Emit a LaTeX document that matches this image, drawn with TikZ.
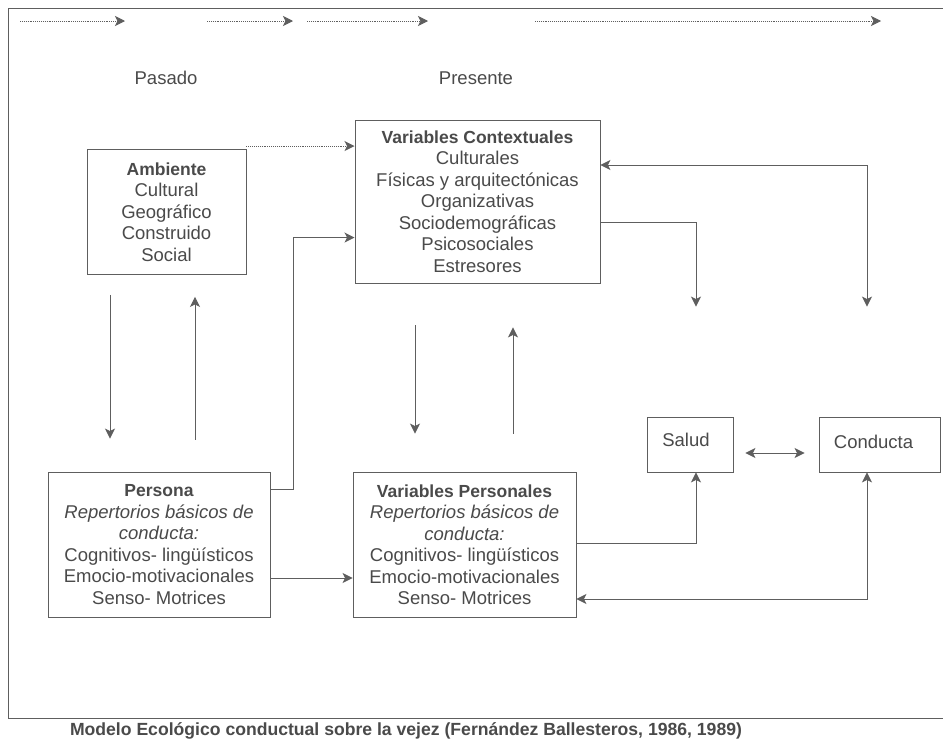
\documentclass[tikz,border=0pt]{standalone}
\usepackage{fontspec}
\setmainfont{Liberation Sans}
\usetikzlibrary{arrows.meta}
\definecolor{linegray}{HTML}{5E5E5E}
\definecolor{textgray}{HTML}{4A4A4A}
\tikzset{
  boxnode/.style={draw=linegray, line width=0.9pt, inner sep=0pt, align=center, text=textgray,
    font=\fontsize{18.5}{21.5}\selectfont},
  lbl/.style={inner sep=0pt, text=textgray, font=\fontsize{18.5}{22}\selectfont},
  conn/.style={draw=linegray, line width=0.9pt},
  tip/.tip={Stealth[length=10pt,width=10pt,inset=2.5pt]},
  arr/.style={conn, -tip},
  darr/.style={conn, tip-tip},
  dotarr/.style={arr, densely dotted},
}
\newcommand{\btitle}[1]{{\fontsize{17.5}{21.5}\selectfont\bfseries #1}}
\begin{document}
\begin{tikzpicture}[x=1pt,y=-1pt]
\useasboundingbox (0,0) rectangle (943,742);
\fill[white] (0,0) rectangle (943,742);
% outer frame
\draw[conn] (950,8) -- (8,8) -- (8,718) -- (950,718);
% time arrows
\coordinate (t1a) at (20,21); \coordinate (t1b) at (125,21);
\coordinate (t2a) at (207,21); \coordinate (t2b) at (293,21);
\coordinate (t3a) at (307,21); \coordinate (t3b) at (428,21);
\coordinate (t4a) at (535,21); \coordinate (t4b) at (881,21);
\draw[dotarr] (t1a) -- (t1b);
\draw[dotarr] (t2a) -- (t2b);
\draw[dotarr] (t3a) -- (t3b);
\draw[dotarr] (t4a) -- (t4b);
% headings
\node[lbl] (pasado) at (166,78) {Pasado};
\node[lbl] (presente) at (476,78) {Presente};
% boxes
\node[boxnode, minimum width=159pt, minimum height=125pt] (amb) at (166.5,212)
  {\btitle{Ambiente}\\ Cultural\\ Geográfico\\ Construido\\ Social};
\node[boxnode, minimum width=245pt, minimum height=163pt] (vc) at (477.5,201.5)
  {\btitle{Variables Contextuales}\\ Culturales\\ Físicas y arquitectónicas\\ Organizativas\\ Sociodemográficas\\ Psicosociales\\ Estresores};
\node[boxnode, minimum width=222pt, minimum height=145pt] (per) at (159,544.5)
  {\btitle{Persona}\\ \textit{Repertorios básicos de}\\ \textit{conducta:}\\ Cognitivos- lingüísticos\\ Emocio-motivacionales\\ Senso- Motrices};
\node[boxnode, minimum width=223pt, minimum height=145pt] (vp) at (464.5,544.5)
  {\btitle{Variables Personales}\\ \textit{Repertorios básicos de}\\ \textit{conducta:}\\ Cognitivos- lingüísticos\\ Emocio-motivacionales\\ Senso- Motrices};
\node[boxnode, minimum width=86pt, minimum height=55pt] (salud) at (690,444.5)
  {\raisebox{10pt}{\hspace*{-8pt}Salud}};
\node[boxnode, minimum width=121pt, minimum height=55pt] (cond) at (879.5,444.5)
  {\raisebox{5pt}{\hspace*{-12pt}Conducta}};
% caption
\node[inner sep=0pt, text=textgray, font=\fontsize{17.6}{20}\selectfont\bfseries] (cap) at (406,731)
  {Modelo Ecológico conductual sobre la vejez (Fernández Ballesteros, 1986, 1989)};
% connectors
\draw[dotarr] ([yshift=3pt]amb.north east) -- ([yshift=3pt]amb.north east -| vc.west);
\draw[arr] ([yshift=-18pt]per.north east) -- ++(23,0) |- ([yshift=-118pt]vc.north west);
\draw[arr] ([yshift=-33.5pt]per.east) -- ([yshift=-33.5pt]per.east -| vp.west);
% vertical arrows Pasado
\draw[arr, shorten <=20pt, shorten >=33pt] ([xshift=-56.5pt]amb.south) -- ([xshift=-56.5pt]amb.south |- per.north);
\draw[arr, shorten <=32pt, shorten >=22pt] ([xshift=36pt]per.north) -- ([xshift=36pt]per.north |- amb.south);
% vertical arrows Presente
\draw[arr, shorten <=42pt, shorten >=38pt] ([xshift=-62.5pt]vc.south) -- ([xshift=-62.5pt]vc.south |- vp.north);
\draw[arr, shorten <=38pt, shorten >=44pt] ([xshift=48.5pt]vp.north) -- ([xshift=48.5pt]vp.north |- vc.south);
% right side
\draw[arr, shorten >=110pt] ([yshift=-20.5pt]vc.east) -| ([xshift=6pt]salud.north);
\draw[darr, shorten >=110pt] ([yshift=36.5pt]vc.east) -| ([xshift=-12.5pt]cond.north);
\draw[arr] ([yshift=1.5pt]vp.east) -| ([xshift=6pt]salud.south);
\draw[darr] ([xshift=-12.5pt]cond.south) |- ([yshift=-54.5pt]vp.east);
\draw[darr, shorten <=12pt, shorten >=14pt] ([yshift=-8.5pt]salud.east) -- ([yshift=-8.5pt]salud.east -| cond.west);
\end{tikzpicture}
\end{document}
